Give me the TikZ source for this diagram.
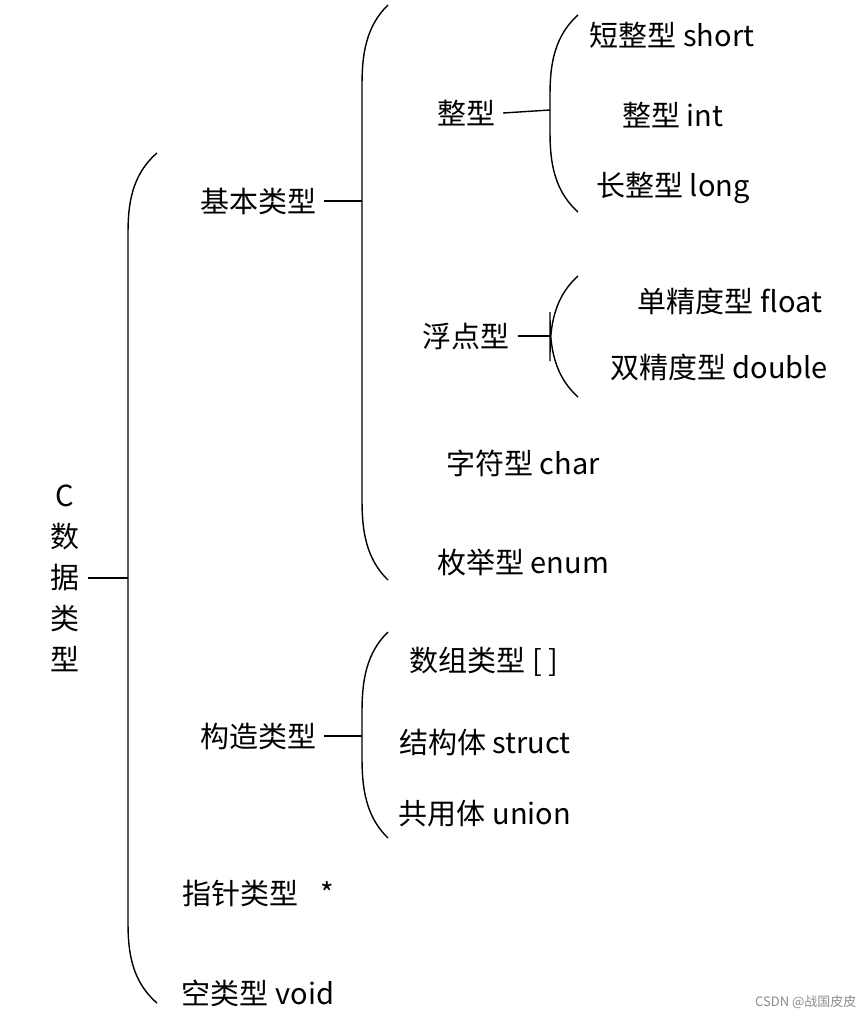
\documentclass[tikz,border=0pt]{standalone}
\usepackage{fontspec}
\setmainfont{Noto Sans CJK SC}
\usetikzlibrary{positioning}

\begin{document}
\begin{tikzpicture}[
    x=1pt, y=-1pt,
    font=\fontsize{29}{35}\selectfont,
    item/.style = {inner sep=8pt, anchor=center},
    tick/.style = {thick, line width=1.4pt},
    brace/.style = {line width=1.4pt},
]
\useasboundingbox (0,0) rectangle (862,1017);

%---- texts ----
\node (root)    [item, align=center, font=\fontsize{29}{41}\selectfont] at (65,578) {C\\数\\据\\类\\型};
\node (jiben)   [item] at (258,201) {基本类型};
\node (gouzao)  [item] at (258,736) {构造类型};
\node (zhizhen) [item] at (258,893) {指针类型\hspace{22pt}*};
\node (kong)    [item] at (258,993) {空类型 void};

\node (zheng)   [item] at (466,113) {整型};
\node (fudian)  [item] at (466,336) {浮点型};
\node (zifu)    [item] at (523,463) {字符型 char};
\node (meiju)   [item] at (523,562) {枚举型 enum};

\node (short)   [item] at (672,35)  {短整型 short};
\node (int)     [item] at (673,115) {整型 int};
\node (long)    [item] at (673,188) {长整型 long};
\node (float)   [item] at (730,301) {单精度型 float};
\node (double)  [item] at (719,367) {双精度型 double};

\node (shuzu)   [item] at (484,662) {数组类型 [ ]};
\node (jiegou)  [item] at (485,742) {结构体 struct};
\node (gongyong)[item] at (485,814) {共用体 union};

\node (mark) [font=\fontsize{13}{15}\selectfont, text=black!45, anchor=east] at (860,1002) {CSDN @战国皮皮};

%---- braces: top / bottom / middle ----
\foreach \nm/\bx/\tx/\ty/\by/\my in {
  b1/128/157/153/1003/578, b2/362/388/5/580/201, b3/550/578/15/212/110,
  b4/550/578/276/397/336, b5/362/388/632/838/736}
{
  \coordinate (\nm mid) at (\bx,\my);
  \draw[brace] (\tx,\ty) .. controls (\bx,\ty+25) and (\bx,\ty+60) .. (\bx,\ty+85)
     -- (\bx,\by-85) .. controls (\bx,\by-60) and (\bx,\by-25) .. (\tx,\by);
}

%---- ticks ----
\foreach \a/\b in {root/b1mid, jiben/b2mid, zheng/b3mid, fudian/b4mid, gouzao/b5mid}
  \draw[tick] (\a.east) -- (\b);
\end{tikzpicture}
\end{document}
